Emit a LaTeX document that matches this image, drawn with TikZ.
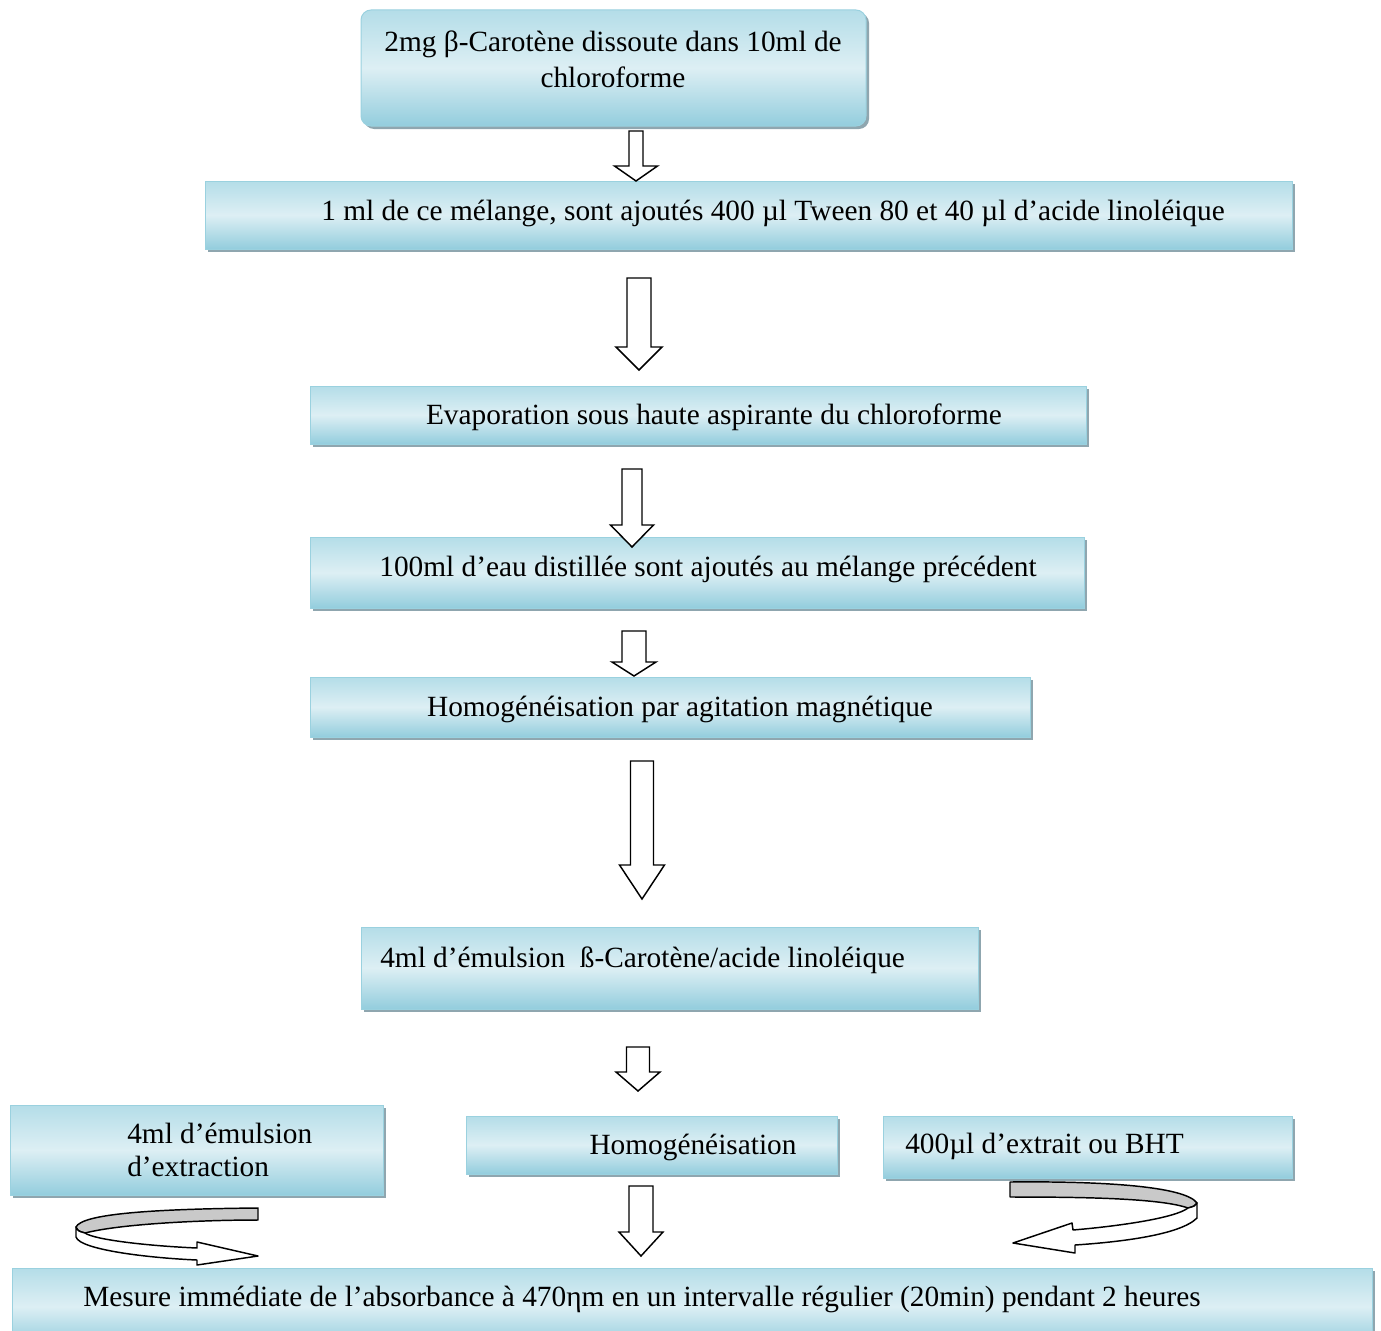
\documentclass[tikz,border=0pt]{standalone}
\usepackage{fontspec}
\setmainfont{Liberation Serif}
\usetikzlibrary{fit,shadows}
\definecolor{boxlight}{HTML}{DDEFF4}
\definecolor{boxtop}{HTML}{B4DDE8}
\definecolor{boxbot}{HTML}{93CDDD}
\definecolor{boxedge}{HTML}{9AD1DF}
\definecolor{shadowc}{HTML}{8FA6AF}
\definecolor{ribbon}{HTML}{C9C9C9}
\tikzset{
 box/.style={rectangle, inner sep=0pt, draw=boxedge, line width=0.75pt,
   top color=boxtop, bottom color=boxbot, middle color=boxlight,
   drop shadow={shadow xshift=2.25pt, shadow yshift=-2.25pt, fill=shadowc, opacity=1}},
 lbl/.style={font=\fontsize{22}{27}\selectfont, inner sep=0pt},
 blk/.style={draw=black, fill=white, line width=1.1pt, line join=miter},
 rib/.style={draw=black, line width=1.1pt, line join=round}
}
% cx, top, tip, shaft width, head width, head length
\newcommand\blockarrow[6]{%
 \draw[blk] ({#1-#4/2},#2) -- ({#1+#4/2},#2) -- ({#1+#4/2},{#3-#6}) -- ({#1+#5/2},{#3-#6})
   -- (#1,#3) -- ({#1-#5/2},{#3-#6}) -- ({#1-#4/2},{#3-#6}) -- cycle;}
\begin{document}
\begin{tikzpicture}[x=0.75pt,y=-0.75pt]
\useasboundingbox (0,0) rectangle (1381,1331);
\clip (0,0) rectangle (1381,1331);

% boxes
\node[box, rounded corners=7.5pt, fit={(361,10)(866,126)}] (b1) {};
\node[box, fit={(205,181)(1292,249)}] (b2) {};
\node[box, fit={(310,386)(1086,444)}] (b3) {};
\node[box, fit={(310,537)(1084,608)}] (b4) {};
\node[box, fit={(310,677)(1030,737)}] (b5) {};
\node[box, fit={(361,927)(978,1009)}] (b6) {};
\node[box, fit={(10,1105)(383,1195)}] (b7) {};
\node[box, fit={(466,1116)(837,1174)}] (b8) {};
\node[box, fit={(883,1116)(1292,1178)}] (b9) {};
\node[box, fit={(12,1268)(1372,1345)}] (b10) {};

% texts
\node[lbl, align=center, anchor=base] (t1) at (613,88) {2mg β-Carotène dissoute dans 10ml de\\chloroforme};
\node[lbl, anchor=base] (t2) at (773,220) {1 ml de ce mélange, sont ajoutés 400 µl Tween 80 et 40 µl d’acide linoléique};
\node[lbl, anchor=base] (t3) at (714,424) {Evaporation sous haute aspirante du chloroforme};
\node[lbl, anchor=base] (t4) at (708,576) {100ml d’eau distillée sont ajoutés au mélange précédent};
\node[lbl, anchor=base] (t5) at (680,716) {Homogénéisation par agitation magnétique};
\node[lbl, anchor=base west] (t6) at (380,967) {4ml d’émulsion\ \ ß-Carotène/acide linoléique};
\node[lbl, align=left, anchor=base west, font=\fontsize{22}{24.75}\selectfont] (t7) at (127,1176) {4ml d’émulsion\\d’extraction};
\node[lbl, anchor=base] (t8) at (693,1154) {Homogénéisation};
\node[lbl, anchor=base west] (t9) at (905,1153) {400µl d’extrait ou BHT};
\node[lbl, anchor=base west] (t10) at (83,1306) {Mesure immédiate de l’absorbance à 470ηm en un intervalle régulier (20min) pendant 2 heures};

% block arrows
\blockarrow{636}{131}{181}{14}{43}{15}
\blockarrow{639}{278}{370}{24}{46}{23}
\blockarrow{632}{469}{547}{20}{43}{22}
\blockarrow{634}{631}{676}{24}{44}{14}
\blockarrow{642}{761}{899}{23}{45}{34}
\blockarrow{638}{1047}{1091}{23}{44}{19}
\blockarrow{641}{1186}{1256}{24}{44}{24}

% curved arrow left
\draw[rib, fill=ribbon] (258,1208) .. controls (150,1209) and (82,1214) .. (76,1227)
  .. controls (78,1231) .. (85,1233) .. controls (120,1224) and (200,1220) .. (258,1220) -- cycle;
\draw[rib, fill=white] (76,1227) -- (76,1237) .. controls (80,1250) and (150,1258) .. (197,1260)
  -- (197,1265) -- (258,1256) -- (197,1242) -- (197,1248)
  .. controls (150,1246) and (95,1240) .. (85,1233) .. controls (78,1231) .. (76,1227) -- cycle;

% curved arrow right
\draw[rib, fill=ribbon] (1010,1182) .. controls (1100,1181) and (1185,1186) .. (1197,1203)
  .. controls (1195,1206) .. (1188,1208) .. controls (1160,1198) and (1080,1197) .. (1010,1197) -- cycle;
\draw[rib, fill=white] (1197,1203) -- (1197,1218) .. controls (1180,1235) and (1120,1242) .. (1075,1245)
  -- (1075,1253) -- (1013,1243) -- (1072,1223) -- (1073,1230)
  .. controls (1120,1226) and (1175,1218) .. (1188,1208) .. controls (1195,1206) .. (1197,1203) -- cycle;
\end{tikzpicture}
\end{document}
